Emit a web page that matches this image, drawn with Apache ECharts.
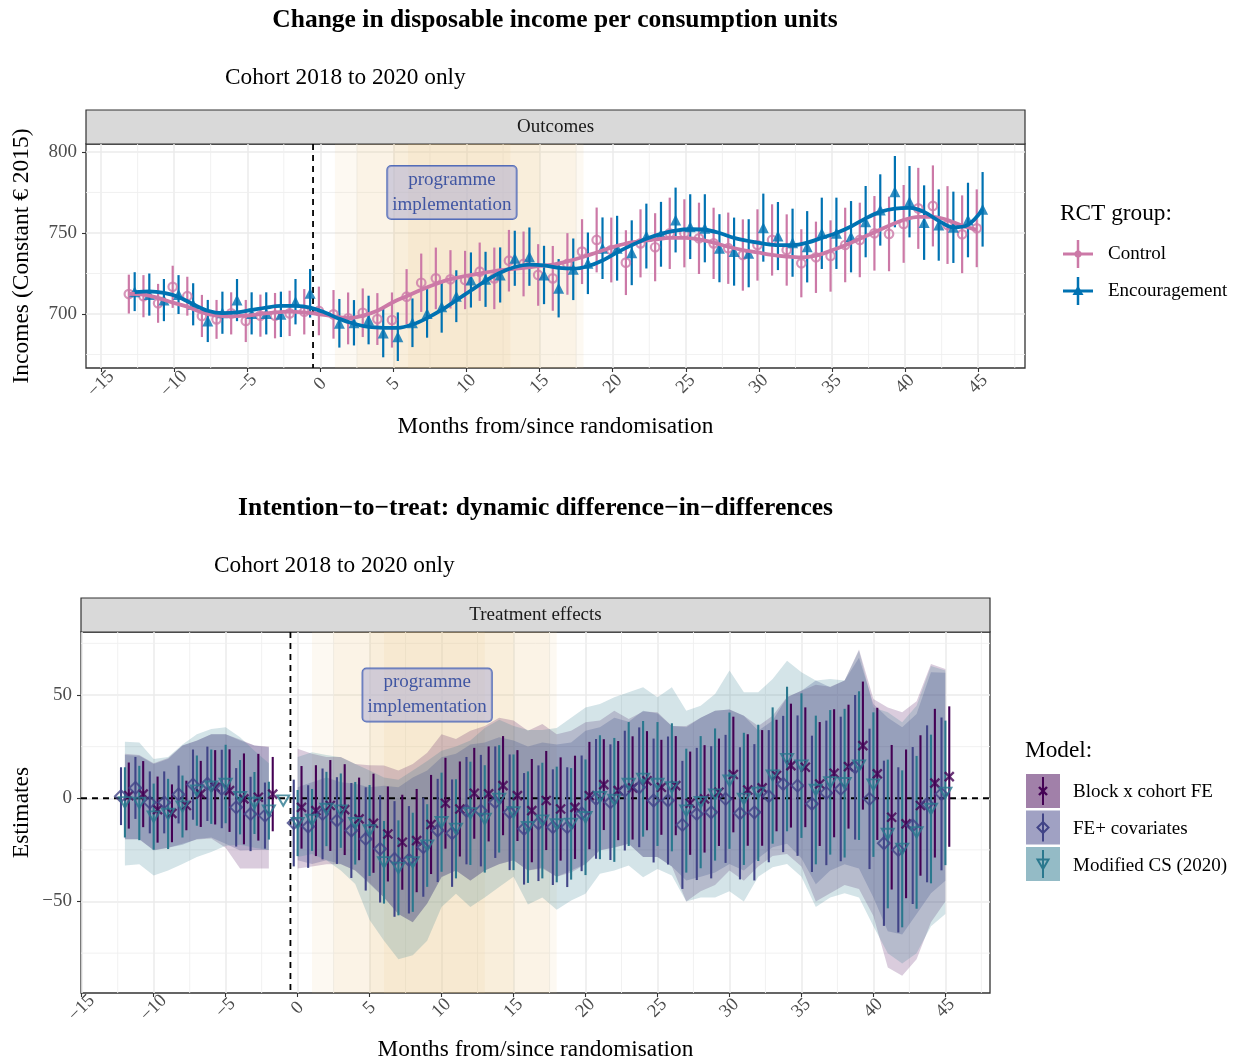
<!DOCTYPE html>
<html>
<head>
<meta charset="utf-8">
<script src="https://cdn.jsdelivr.net/npm/echarts@6/dist/echarts.min.js"></script>
<style>
html,body{margin:0;padding:0;background:#ffffff;}
#chart{width:1238px;height:1062px;}
</style>
</head>
<body>
<div id="chart"></div>
<script>
// ================= DATA =================
// --- Top panel: outcomes by RCT group ---
const outcomeMonths = [-13,-12,-11,-10,-9,-8,-7,-6,-5,-4,-3,-2,-1,0,1,2,3,4,5,6,7,8,9,10,11,12,13,14,15,16,17,18,19,20,21,22,23,24,25,26,27,28,29,30,31,32,33,34,35,36,37,38,39,40,41,42,43,44,45];
const controlIncome = [712.3,711,706.6,716.8,711,698.8,696.7,700.4,695.7,699,699,700.4,701.4,
  701.9,699.8,697.3,700.8,696.9,696.3,710.7,719.3,722,721.4,721,
  726.1,722,732.9,730.9,724.1,722,730.9,738.5,745.7,739.5,
  731.7,743.6,741.2,749.8,749.8,746.7,743.6,740.6,736.4,742.6,
  745.7,739.5,731.3,735,735.8,742.6,745.7,749.8,749.4,755.6,
  765.2,766.7,754.9,749.2,752.9];
const controlCI = [12,13,12,13,12,13,12,13,13,13,14,14,14,
  15,15,16,15,16,17,17,18,19,18,18,
  18,19,19,20,19,20,19,20,20,20,
  20,21,21,22,21,22,22,22,22,22,
  22,22,21,22,22,23,23,23,23,24,
  25,25,24,24,24];
const encourageIncome = [713.8,712,708.6,712,706,695.7,700.8,708.6,700.4,700.4,699.8,707.6,712.8,
  null,694.3,694.6,696.3,688.3,686,694.6,700.4,704.5,711,721,
  721.4,724.1,734.4,735.4,724.1,715.9,727.6,731.3,740.6,740.6,
  737.8,748.1,749.2,758,753.9,752.9,740.6,738.5,737.5,753.3,
  748.1,744,741.5,749.8,749.8,747.7,757,764.2,775.5,769.3,
  756.4,754.9,753.5,758,764.6];
const encourageCI = [12,13,13,12,13,13,13,13,13,13,14,14,15,
  null,15,14,15,15,15,15,15,16,16,17,
  17,17,17,18,18,18,19,19,19,20,
  20,20,20,20,20,21,21,21,21,21,
  21,21,22,22,22,22,22,22,22,22,
  23,22,22,23,23];
const controlSmooth = [712.5,712,710,707,704.5,701,699,698.5,699,700,701,701.5,701,
  700,698.5,697.5,699,702,707,711,715,718.5,721.5,723.5,
  725,726.5,727.5,728.5,729.5,730.5,732.5,735,738,741,
  743.5,745,746,747,747,746,744,741.5,739.5,738,
  736.5,735.5,735,736,739,742.5,746.5,750.5,754.5,758,
  760,760,758,754.5,752];
const encourageSmooth = [713.5,714,713,710.5,706,702,700.5,701,702.5,704,705,705,704,
  701,697,694,692,691.5,691.5,693.5,697.5,702.5,708.5,714.5,
  720.5,725.5,729,730.5,730,728.5,728,729.5,733,738,
  742.5,746.5,749.5,751.5,752.3,752,750,747,745,743.5,
  742.5,742.5,744,747,750,754,759,763,765,765.5,
  763,757.5,753.5,755,764.5];

// --- Bottom panel: dynamic DiD treatment effects ---
const effectMonths = [-12,-11,-10,-9,-8,-7,-6,-5,-4,-3,-2,-1,0,1,2,3,4,5,6,7,8,9,10,11,12,13,14,15,16,17,18,19,20,21,22,23,24,25,26,27,28,29,30,31,32,33,34,35,36,37,38,39,40,41,42,43,44,45];
// Block x cohort FE
const feEst = [1.3,2,-5.5,-7.3,-3.5,2.1,5.3,3.7,-0.3,0.5,2,null,
  -4.4,-6,-3.5,-5.5,-10,-12.1,-17.3,-21.3,-20.5,-12.7,-2.4,
  -5.2,2.4,2.1,6.1,1.3,-6,-1.1,-5.2,-4.4,1.3,
  6.6,3.7,5,8.5,5.3,6.1,-2.4,-0.3,2.9,11.5,
  4,5,11,15.8,15,6.9,12.1,15.3,25.5,11.8,
  -9.2,-12.4,-3.5,7.3,10.5];
const feBar = [16,16,16,14,12,16,18,20,22,21,18,null,
  20,22,22,22,20,24,23,23,25,24,22,
  23,22,23,24,22,25,24,25,25,26,
  22,24,25,24,23,24,25,26,26,28,
  27,28,27,30,29,30,31,30,31,32,
  35,36,34,36,34];
const feRibLo = [-20,-20,-25,-24,-22,-20,-19.5,-24,-34,-34,-34,null,
  -34,-33,-32,-32,-35,-41,-48,-56,-60,-51,-38,
  -35,-40,-35,-32,-30,-35,-34,-38,-36,-32,
  -25,-24,-22,-28.5,-28.5,-33,-50,-45,-42,-35,
  -40,-33,-28,-27,-33,-50,-46,-42,-44,-57,
  -82,-86,-78,-60,-50];
const feRibHi = [21.5,21,17,19.5,25.5,28,31,31,28.5,25.5,25,null,
  24,21.5,20,20,16.6,16,15.8,13.4,16.6,22,31,
  28.7,32.7,35,39,37.6,32.7,36,31,32.7,36.8,
  37.6,42.4,38.4,42,41.6,35,35,39,42.4,43,
  40,35,40,49,52,55,54,57,72,48,
  44,41.6,47,65,62.6];
// FE+ covariates
const covEst = [1,5,-2,-2,1.8,6.6,7,4.5,-4.4,-7.6,-8.4,null,
  -12,-13.7,-7.6,-10.8,-15.6,-19.7,-24.5,-29.4,-29.8,-23.7,-15.6,
  -16.9,-6,-6,-1.9,-6.8,-14.8,-12.1,-14,-14,-7.3,
  -0.3,-1.9,3.7,5.3,-1.1,-1.1,-12.9,-7.6,-6.8,-0.3,
  -7.3,-6.8,1,6.9,6.1,-2.7,2.6,4.5,15,-0.3,
  -21.8,-25,-13.2,-2.7,2.1];
const covBar = [14,15,15,15,14,17,18,19,19,18,16,null,
  21,20,22,21,23,25,26,28,26,24,25,
  26,26,27,27,28,27,28,28,29,28,
  29,28,29,29,30,31,31,32,32,31,
  32,33,32,33,34,33,35,35,35,34,
  40,40,38,38,37];
const covRibLo = [-19.7,-19.7,-25.3,-24,-22.5,-19.7,-19,-22,-25.3,-25,-25,null,
  -30,-31.8,-30,-31.8,-35,-41.5,-48,-56,-60,-51,-38.2,
  -35,-39.8,-35,-31.8,-30,-35,-33.5,-38,-35,-31.8,
  -25.3,-23.7,-22,-28.5,-28.5,-33,-39.8,-38,-36,-31.8,
  -35,-29,-23.7,-22,-29,-41.6,-35,-32,-34,-48,
  -64.4,-66,-56,-46,-40];
const covRibHi = [21,20.6,16.6,19,25.5,27.9,31,31,28,25.5,24.7,null,
  5.3,7.7,10,7.7,7,5.3,6,5.3,10,13.4,19.8,
  21.5,26,27,29.5,28,25,27,26,27,32.7,
  34.4,39,37,42.4,41,35,34.4,39,42.4,43,
  40,32.7,37.6,48.9,52,57,53.7,57,68,45.6,
  39,34.4,40.8,61,60.8];
// Modified CS (2020)
const csEst = [-2,-2.3,-8.9,-7.6,-4,3.7,5.6,6.9,0.5,-2.3,-6,-1.1,
  -12,-10.5,-5.2,-6,-12.1,-15.6,-31,-33.7,-31,-22.9,-11.6,
  -14.8,-7.3,-10,-0.3,-6.8,-14,-10.8,-12.7,-12.4,-9.2,
  0.5,-0.8,6.9,9.4,6.9,5.3,-6,-1.9,1.8,8.5,
  -0.3,2.6,11,19,15.8,4,7.7,7.3,15.8,6.6,
  -17.3,-24.5,-16.5,-5.2,2.6];
const csBar = [17,18,16,17,15,17,18,19,18,15,14,null,
  16,15,18,18,20,22,20,23,24,20,24,
  24,25,26,26,28,27,28,28,27,28,
  30,30,30,28,30,31,30,32,32,33,
  32,33,33,35,35,36,35,36,36,35,
  36,38,37,36,35];
const csRibLo = [-32.6,-32,-37.4,-35,-31.8,-28.5,-26,-23,-22.5,-24,-25,null,
  -28.5,-27,-30,-35,-41.5,-59,-69,-78,-76,-69,-52.7,
  -46.3,-52.7,-48,-43,-38,-51.5,-48,-54,-49.5,-46.3,
  -36.6,-35,-32.6,-38.2,-34.2,-37.4,-50,-48,-48,-45,
  -50,-38,-33.4,-31.8,-38,-52.7,-48,-46,-48,-62,
  -75,-80,-75,-62,-56];
const csRibHi = [27.4,27,19,20,26,31,33.5,34.4,29.5,23,17,null,
  20,22.3,21,19.8,16.6,13.4,10,9,13.4,18,23,
  25,28,34,38,35,33,33,34,39,44,
  45.6,48.9,51.3,53.7,48.9,53.7,42.4,44.8,50.5,61.8,
  51.3,51.3,57.7,66.6,61,57,57.7,57,71.5,44,
  41.6,36.8,44.8,64,61.8];

// programme implementation windows (months) and reference period
const implPeriods = [[1,18],[2.5,17.5],[5,15],[6,13]];
const refMonth = -0.5;
const annotMonth = 9;
const annotTopValue = 775;
const annotBottomValue = 50;

// axis ticks
const xTickValues = [-15,-10,-5,0,5,10,15,20,25,30,35,40,45];
const xMinorValues = [-12.5,-7.5,-2.5,2.5,7.5,12.5,17.5,22.5,27.5,32.5,37.5,42.5,47.5];
const yTopTicks = [700,750,800];
const yTopMinor = [675,725,775];
const yBotTicks = [-50,0,50];
const yBotMinor = [-75,-25,25,75];

// ================= STYLE / LAYOUT =================
const FONT = 'Liberation Serif';
const PINK = '#CC79A7', BLUE = '#0072B2';
const C_FE = '#440154', C_COV = '#414487', C_CS = '#2A788E';
const TOP = {left: 86, top: 144, width: 939, height: 224, xmin: -16.03, xmax: 48.2, ymin: 666.7, ymax: 804.9};
const BOT = {left: 81, top: 632, width: 909, height: 361, xmin: -15.05, xmax: 48.1, ymin: -94.3, ymax: 80.5};
const DODGE_CONTROL = -0.1, DODGE_ENCOURAGE = 0.3;
const DODGE_FE = 0.27, DODGE_COV = -0.27, DODGE_CS = 0;

const fmt = v => (v < 0 ? '\u2212' + Math.abs(v) : String(v));

function xAxisDef(gi, P, margin) {
  return {
    type: 'value', gridIndex: gi, min: P.xmin, max: P.xmax, position: 'bottom',
    minInterval: 5, maxInterval: 5, splitNumber: 12,
    axisLine: {show: false, onZero: false},
    axisTick: {show: true, length: 4, lineStyle: {color: '#333333', width: 1.1}, customValues: xTickValues},
    axisLabel: {show: true, rotate: 45, align: 'center', verticalAlign: 'middle', margin: margin,
      fontFamily: FONT, fontSize: 18.5, color: '#4d4d4d', customValues: xTickValues,
      formatter: v => (xTickValues.indexOf(v) >= 0 ? fmt(v) : '')},
    splitLine: {show: true, lineStyle: {color: '#ebebeb', width: 1.5}}
  };
}
function yAxisDef(gi, P, ticks, step) {
  return {
    type: 'value', gridIndex: gi, min: P.ymin, max: P.ymax, position: 'left',
    minInterval: step, maxInterval: step, splitNumber: 3,
    axisLine: {show: false, onZero: false},
    axisTick: {show: true, length: 4, lineStyle: {color: '#333333', width: 1.1}, customValues: ticks},
    axisLabel: {show: true, margin: 9, fontFamily: FONT, fontSize: 19, color: '#4d4d4d', customValues: ticks,
      formatter: v => (ticks.indexOf(v) >= 0 ? fmt(v) : '')},
    splitLine: {show: true, lineStyle: {color: '#ebebeb', width: 1.5}}
  };
}

function shadingSeries(gi, P) {
  return {
    type: 'custom', xAxisIndex: gi, yAxisIndex: gi, silent: true,
    data: implPeriods.map(p => [p[0], p[1]]),
    encode: {x: [0, 1]},
    renderItem: (params, api) => {
      const cs = params.coordSys;
      const x0 = api.coord([api.value(0), P.ymin])[0];
      const x1 = api.coord([api.value(1), P.ymin])[0];
      return {type: 'rect', shape: {x: x0, y: cs.y, width: x1 - x0, height: cs.height},
        style: {fill: 'rgba(232,200,128,0.105)'}};
    }
  };
}
function minorSeries(gi, P, xs, ys) {
  const data = xs.map(v => [v, 0]).concat(ys.map(v => [v, 1]));
  return {
    type: 'custom', xAxisIndex: gi, yAxisIndex: gi, silent: true,
    data: data,
    renderItem: (params, api) => {
      const cs = params.coordSys;
      const v = api.value(0), kind = api.value(1);
      if (kind === 0) {
        const x = api.coord([v, P.ymin])[0];
        return {type: 'line', shape: {x1: x, y1: cs.y, x2: x, y2: cs.y + cs.height}, style: {stroke: '#efefef', lineWidth: 0.9}};
      }
      const y = api.coord([P.xmin, v])[1];
      return {type: 'line', shape: {x1: cs.x, y1: y, x2: cs.x + cs.width, y2: y}, style: {stroke: '#efefef', lineWidth: 0.9}};
    }
  };
}
function vDashSeries(gi, P) {
  return {
    type: 'custom', xAxisIndex: gi, yAxisIndex: gi, silent: true,
    data: [[refMonth, P.ymin]],
    renderItem: (params, api) => {
      const cs = params.coordSys;
      const x = api.coord([api.value(0), P.ymin])[0];
      return {type: 'line', shape: {x1: x, y1: cs.y, x2: x, y2: cs.y + cs.height},
        style: {stroke: '#000', lineWidth: 1.8, lineDash: [6, 5]}};
    }
  };
}
function hDashSeries(gi, P, val) {
  return {
    type: 'custom', xAxisIndex: gi, yAxisIndex: gi, silent: true,
    data: [[P.xmin, val]],
    renderItem: (params, api) => {
      const cs = params.coordSys;
      const y = api.coord([P.xmin, api.value(1)])[1];
      return {type: 'line', shape: {x1: cs.x, y1: y, x2: cs.x + cs.width, y2: y},
        style: {stroke: '#000', lineWidth: 1.8, lineDash: [6, 5]}};
    }
  };
}
function errorBarSeries(gi, months, off, est, half, color, lw) {
  const data = [];
  months.forEach((m, i) => {
    if (est[i] != null && half[i] != null) data.push([m + off, est[i] - half[i], est[i] + half[i]]);
  });
  return {
    type: 'custom', xAxisIndex: gi, yAxisIndex: gi, silent: true,
    data: data, encode: {x: 0, y: [1, 2]},
    renderItem: (params, api) => {
      const a = api.coord([api.value(0), api.value(1)]);
      const b = api.coord([api.value(0), api.value(2)]);
      return {type: 'line', shape: {x1: a[0], y1: a[1], x2: b[0], y2: b[1]}, style: {stroke: color, lineWidth: lw}};
    }
  };
}
function ribbonSeries(gi, months, lo, hi, fill) {
  const segs = [];
  let cur = [];
  months.forEach((m, i) => {
    if (lo[i] == null || hi[i] == null) { if (cur.length) segs.push(cur); cur = []; }
    else cur.push(i);
  });
  if (cur.length) segs.push(cur);
  return {
    type: 'custom', xAxisIndex: gi, yAxisIndex: gi, silent: true,
    data: segs.map(s => [months[s[0]], lo[s[0]]]),
    encode: {x: 0, y: 1},
    renderItem: (params, api) => {
      const s = segs[params.dataIndex];
      const pts = [];
      s.forEach(i => pts.push(api.coord([months[i], hi[i]])));
      for (let j = s.length - 1; j >= 0; j--) pts.push(api.coord([months[s[j]], lo[s[j]]]));
      return {type: 'polygon', shape: {points: pts}, style: {fill: fill}};
    }
  };
}
function pointSeries(gi, months, off, est, symbol, size, itemStyle) {
  const data = [];
  months.forEach((m, i) => { if (est[i] != null) data.push([m + off, est[i]]); });
  return {type: 'scatter', xAxisIndex: gi, yAxisIndex: gi, silent: true, data: data,
    symbol: symbol, symbolSize: size, itemStyle: itemStyle};
}
function smoothSeries(months, off, vals, color) {
  return {type: 'line', xAxisIndex: 0, yAxisIndex: 0, silent: true, smooth: 0.35, showSymbol: false,
    data: months.map((m, i) => [m + off, vals[i]]),
    lineStyle: {color: color, width: 3.8}, itemStyle: {color: color}};
}
function annotSeries(gi, x, y) {
  return {type: 'scatter', xAxisIndex: gi, yAxisIndex: gi, silent: true, data: [[x, y]], symbolSize: 0,
    label: {show: true, position: 'inside', formatter: 'programme\nimplementation', fontFamily: FONT, fontSize: 19,
      color: '#1a3796', lineHeight: 25, backgroundColor: 'rgba(180,178,210,0.72)', borderColor: '#2a4db0',
      borderWidth: 1, borderRadius: 4, padding: [2, 5, 1, 5]}};
}

const XMARK = 'path://M0,0L10,10M10,0L0,10';
const DOWNTRI = 'path://M0,0L10,0L5,8.66Z';

function txt(x, y, text, size, opts) {
  return Object.assign({type: 'text', x: x, y: y, silent: true,
    style: Object.assign({text: text, fontFamily: FONT, fontSize: size, fill: '#000', align: 'left', verticalAlign: 'middle'}, opts || {})});
}
function ln(x1, y1, x2, y2, color, w) {
  return {type: 'line', silent: true, shape: {x1: x1, y1: y1, x2: x2, y2: y2}, style: {stroke: color, lineWidth: w}};
}

const graphics = [
  // top panel texts
  txt(555, 20, 'Change in disposable income per consumption units', 25.5, {fontWeight: 'bold', align: 'center'}),
  txt(225, 78, 'Cohort 2018 to 2020 only', 23.3),
  {type: 'rect', silent: true, shape: {x: TOP.left, y: 110, width: TOP.width, height: 34}, style: {fill: '#d9d9d9', stroke: '#333333', lineWidth: 1.2}},
  txt(TOP.left + TOP.width / 2, 127, 'Outcomes', 19, {align: 'center', fill: '#1a1a1a'}),
  Object.assign(txt(22, TOP.top + TOP.height / 2, 'Incomes (Constant \u20ac 2015)', 23.5, {align: 'center'}), {rotation: Math.PI / 2}),
  txt(TOP.left + TOP.width / 2, 427, 'Months from/since randomisation', 23.3, {align: 'center'}),
  // top legend
  txt(1060, 214, 'RCT group:', 23.3),
  ln(1063, 254, 1093, 254, PINK, 3),
  ln(1078, 240, 1078, 268, PINK, 2.5),
  {type: 'circle', silent: true, shape: {cx: 1078, cy: 254, r: 3.5}, style: {fill: PINK}},
  txt(1108, 254, 'Control', 19),
  ln(1063, 291, 1093, 291, BLUE, 3),
  ln(1078, 277, 1078, 305, BLUE, 2.5),
  {type: 'polygon', silent: true, shape: {points: [[1078, 285.5], [1072.5, 295], [1083.5, 295]]}, style: {fill: BLUE}},
  txt(1108, 291, 'Encouragement', 19),
  // bottom panel texts
  txt(BOT.left + BOT.width / 2, 508, 'Intention\u2212to\u2212treat: dynamic difference\u2212in\u2212differences', 25.5, {fontWeight: 'bold', align: 'center'}),
  txt(214, 566, 'Cohort 2018 to 2020 only', 23.3),
  {type: 'rect', silent: true, shape: {x: BOT.left, y: 598, width: BOT.width, height: 34}, style: {fill: '#d9d9d9', stroke: '#333333', lineWidth: 1.2}},
  txt(BOT.left + BOT.width / 2, 615, 'Treatment effects', 19, {align: 'center', fill: '#1a1a1a'}),
  Object.assign(txt(22, BOT.top + BOT.height / 2, 'Estimates', 23.5, {align: 'center'}), {rotation: Math.PI / 2}),
  txt(BOT.left + BOT.width / 2, 1050, 'Months from/since randomisation', 23.3, {align: 'center'}),
  // bottom legend
  txt(1025, 751, 'Model:', 23.3),
  {type: 'rect', silent: true, shape: {x: 1026, y: 774, width: 34, height: 34}, style: {fill: 'rgba(68,1,84,0.5)'}},
  ln(1043, 777, 1043, 805, C_FE, 2),
  ln(1039, 787, 1047, 795, C_FE, 2.4),
  ln(1047, 787, 1039, 795, C_FE, 2.4),
  txt(1073, 792, 'Block x cohort FE', 19),
  {type: 'rect', silent: true, shape: {x: 1026, y: 810.5, width: 34, height: 34}, style: {fill: 'rgba(65,68,135,0.5)'}},
  ln(1043, 813.5, 1043, 841.5, C_COV, 2),
  {type: 'polygon', silent: true, shape: {points: [[1043, 822], [1048.5, 827.5], [1043, 833], [1037.5, 827.5]]}, style: {stroke: C_COV, lineWidth: 2, fill: 'rgba(0,0,0,0)'}},
  txt(1073, 829, 'FE+ covariates', 19),
  {type: 'rect', silent: true, shape: {x: 1026, y: 847, width: 34, height: 34}, style: {fill: 'rgba(42,120,142,0.5)'}},
  ln(1043, 850, 1043, 878, C_CS, 2),
  {type: 'polygon', silent: true, shape: {points: [[1037.5, 859.5], [1048.5, 859.5], [1043, 869]]}, style: {stroke: C_CS, lineWidth: 2, fill: 'rgba(0,0,0,0)'}},
  txt(1073, 866, 'Modified CS (2020)', 19)
];

const option = {
  animation: false,
  backgroundColor: '#ffffff',
  textStyle: {fontFamily: FONT},
  grid: [
    {left: TOP.left, top: TOP.top, width: TOP.width, height: TOP.height, show: true, borderColor: '#333333', borderWidth: 1.3, backgroundColor: 'transparent', containLabel: false},
    {left: BOT.left, top: BOT.top, width: BOT.width, height: BOT.height, show: true, borderColor: '#333333', borderWidth: 1.3, backgroundColor: 'transparent', containLabel: false}
  ],
  xAxis: [xAxisDef(0, TOP, 16), xAxisDef(1, BOT, 15)],
  yAxis: [yAxisDef(0, TOP, yTopTicks, 50), yAxisDef(1, BOT, yBotTicks, 50)],
  graphic: {elements: graphics},
  series: [
    // ---- top ----
    minorSeries(0, TOP, xMinorValues, yTopMinor),
    shadingSeries(0, TOP),
    vDashSeries(0, TOP),
    errorBarSeries(0, outcomeMonths, DODGE_CONTROL, controlIncome, controlCI, PINK, 2.2),
    errorBarSeries(0, outcomeMonths, DODGE_ENCOURAGE, encourageIncome, encourageCI, BLUE, 2.2),
    smoothSeries(outcomeMonths, DODGE_CONTROL, controlSmooth, PINK),
    smoothSeries(outcomeMonths, DODGE_ENCOURAGE, encourageSmooth, BLUE),
    pointSeries(0, outcomeMonths, DODGE_CONTROL, controlIncome, 'circle', 8.5, {color: 'rgba(255,255,255,0)', borderColor: PINK, borderWidth: 2.2}),
    pointSeries(0, outcomeMonths, DODGE_ENCOURAGE, encourageIncome, 'triangle', 11, {color: BLUE}),
    annotSeries(0, annotMonth, annotTopValue),
    // ---- bottom ----
    minorSeries(1, BOT, xMinorValues, yBotMinor),
    shadingSeries(1, BOT),
    ribbonSeries(1, effectMonths, feRibLo, feRibHi, 'rgba(68,1,84,0.2)'),
    ribbonSeries(1, effectMonths, covRibLo, covRibHi, 'rgba(65,68,135,0.25)'),
    ribbonSeries(1, effectMonths, csRibLo, csRibHi, 'rgba(42,120,142,0.2)'),
    vDashSeries(1, BOT),
    hDashSeries(1, BOT, 0),
    errorBarSeries(1, effectMonths, DODGE_FE, feEst, feBar, C_FE, 2.1),
    errorBarSeries(1, effectMonths, DODGE_COV, covEst, covBar, C_COV, 2.1),
    errorBarSeries(1, effectMonths, DODGE_CS, csEst, csBar, C_CS, 2.1),
    pointSeries(1, effectMonths, DODGE_FE, feEst, XMARK, 9, {color: 'rgba(0,0,0,0)', borderColor: C_FE, borderWidth: 2.3}),
    pointSeries(1, effectMonths, DODGE_COV, covEst, 'diamond', [12, 12], {color: 'rgba(0,0,0,0)', borderColor: C_COV, borderWidth: 2}),
    pointSeries(1, effectMonths, DODGE_CS, csEst, DOWNTRI, [12, 10.4], {color: 'rgba(0,0,0,0)', borderColor: C_CS, borderWidth: 2}),
    annotSeries(1, annotMonth, annotBottomValue)
  ]
};

const chart = echarts.init(document.getElementById('chart'), null, {renderer: 'canvas'});
chart.setOption(option);
</script>
</body>
</html>
